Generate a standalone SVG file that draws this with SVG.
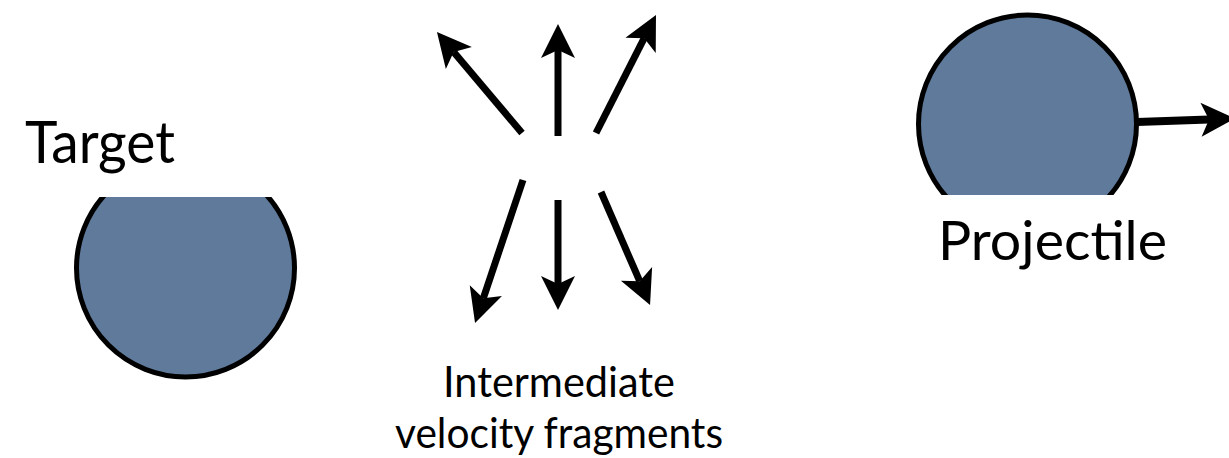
<svg xmlns="http://www.w3.org/2000/svg" width="1229" height="458" viewBox="0 0 1229 458">
  <style>
    .ball { fill: #5f7a9a; stroke: #000; stroke-width: 5; }
    .lbl { font-family: Lato, "Open Sans", "Liberation Sans", sans-serif; fill: #000; }
    .arr { stroke: #000; stroke-width: 7; fill: none; marker-end: url(#head); }
  </style>
  <defs>
    <marker id="head" markerUnits="userSpaceOnUse" orient="auto" refX="0" refY="0" markerWidth="40" markerHeight="40" viewBox="-10 -20 40 40" overflow="visible">
      <path d="M 26 0 L -8 -17 L 0 0 L -8 17 Z" fill="#000"/>
    </marker>
    <clipPath id="clipTarget"><rect x="0" y="197" width="400" height="261"/></clipPath>
    <clipPath id="clipProj"><rect x="850" y="0" width="379" height="195"/></clipPath>
  </defs>
  <rect width="1229" height="458" fill="#fff"/>

  <g id="target">
    <circle class="ball" cx="185.5" cy="268" r="109" clip-path="url(#clipTarget)"/>
    <text class="lbl" x="25" y="163" font-size="58" textLength="150" lengthAdjust="spacingAndGlyphs">Target</text>
  </g>

  <g id="projectile">
    <circle class="ball" cx="1027.5" cy="124" r="109" clip-path="url(#clipProj)"/>
    <text class="lbl" x="938" y="260" font-size="55" textLength="229" lengthAdjust="spacingAndGlyphs">Projectile</text>
  </g>

  <g id="fragments">
    <text class="lbl" x="443" y="397" font-size="42" textLength="232" lengthAdjust="spacingAndGlyphs">Intermediate</text>
    <text class="lbl" x="395" y="448" font-size="42" textLength="328" lengthAdjust="spacingAndGlyphs">velocity fragments</text>
  </g>

  <g id="connectors">
    <line class="arr" x1="522" y1="133" x2="453.7" y2="51.9"/>
    <line class="arr" x1="558" y1="136" x2="558" y2="50"/>
    <line class="arr" x1="596" y1="133" x2="644.2" y2="38.2"/>
    <line class="arr" x1="523" y1="180" x2="483.3" y2="298.3"/>
    <line class="arr" x1="558" y1="200" x2="558" y2="284"/>
    <line class="arr" x1="601" y1="192" x2="639.7" y2="281.2"/>
    <line class="arr" x1="1137" y1="122" x2="1209" y2="119.5" style="stroke-width:8"/>
  </g>
</svg>
